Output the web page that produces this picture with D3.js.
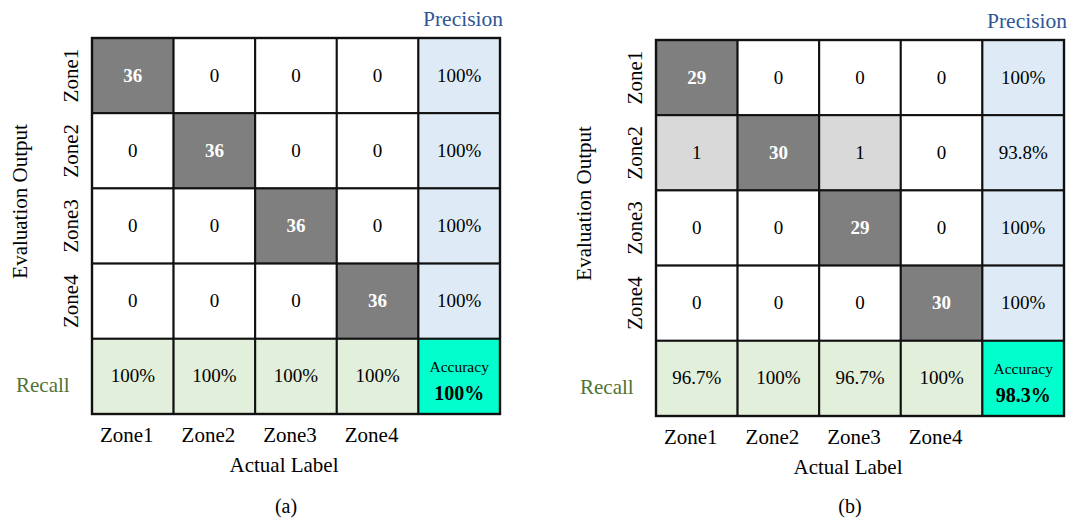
<!DOCTYPE html>
<html>
<head>
<meta charset="utf-8">
<script src="https://cdn.jsdelivr.net/npm/d3@7"></script>
<style>
  html, body { margin: 0; padding: 0; background: #fff; }
  svg { display: block; font-family: "Liberation Serif", "Times New Roman", serif; }
</style>
</head>
<body>
<svg id="chart" width="1074" height="520"></svg>
<script>
// Class names shared by both confusion matrices
const zones = ["Zone1", "Zone2", "Zone3", "Zone4"];

// Panel (a): rows = evaluation output, columns = actual label
const countsA = [
  [36, 0, 0, 0],
  [0, 36, 0, 0],
  [0, 0, 36, 0],
  [0, 0, 0, 36]
];
const precisionA = ["100%", "100%", "100%", "100%"];
const recallA = ["100%", "100%", "100%", "100%"];
const accuracyA = "100%";

// Panel (b)
const countsB = [
  [29, 0, 0, 0],
  [1, 30, 1, 0],
  [0, 0, 29, 0],
  [0, 0, 0, 30]
];
const precisionB = ["100%", "93.8%", "100%", "100%"];
const recallB = ["96.7%", "100%", "96.7%", "100%"];
const accuracyB = "98.3%";

const panels = [
  { id: "(a)", counts: countsA, precision: precisionA, recall: recallA, accuracy: accuracyA, x: 92, y: 38 },
  { id: "(b)", counts: countsB, precision: precisionB, recall: recallB, accuracy: accuracyB, x: 656, y: 40 }
];

const colors = {
  diag: "#7f7f7f",
  offHit: "#d9d9d9",
  zero: "#ffffff",
  precision: "#deebf7",
  recall: "#e2efda",
  accuracy: "#00ffcc",
  blueText: "#2f5597",
  greenText: "#4f7336"
};

const W = 408, H = 376;
const svg = d3.select("#chart");
const colKeys = zones.concat(["__prec"]);
const rowKeys = zones.concat(["__rec"]);

panels.forEach(p => {
  const g = svg.append("g").attr("transform", `translate(${p.x},${p.y})`);
  const x = d3.scaleBand().domain(colKeys).range([0, W]);
  const y = d3.scaleBand().domain(rowKeys).range([0, H]);

  // Assemble all 25 cells
  const cells = [];
  zones.forEach((r, i) => {
    zones.forEach((c, j) => {
      const v = p.counts[i][j];
      cells.push({
        row: r, col: c, text: String(v),
        fill: i === j ? colors.diag : (v > 0 ? colors.offHit : colors.zero),
        color: i === j ? "#ffffff" : "#000000",
        bold: i === j
      });
    });
    cells.push({ row: r, col: "__prec", text: p.precision[i], fill: colors.precision, color: "#000", bold: false });
  });
  zones.forEach((c, j) => {
    cells.push({ row: "__rec", col: c, text: p.recall[j], fill: colors.recall, color: "#000", bold: false });
  });
  cells.push({ row: "__rec", col: "__prec", text: null, fill: colors.accuracy, acc: true });

  const cg = g.selectAll("g.cell").data(cells).join("g")
    .attr("class", "cell")
    .attr("transform", d => `translate(${x(d.col)},${y(d.row)})`);

  cg.append("rect")
    .attr("width", x.bandwidth())
    .attr("height", y.bandwidth())
    .attr("fill", d => d.fill)
    .attr("stroke", "#111")
    .attr("stroke-width", 2);

  cg.filter(d => !d.acc).append("text")
    .attr("x", x.bandwidth() / 2)
    .attr("y", y.bandwidth() / 2 + 6)
    .attr("text-anchor", "middle")
    .attr("font-size", 19)
    .attr("font-weight", d => d.bold ? "bold" : "normal")
    .attr("fill", d => d.color)
    .text(d => d.text);

  const acc = cg.filter(d => d.acc);
  acc.append("text")
    .attr("x", x.bandwidth() / 2)
    .attr("y", 33)
    .attr("text-anchor", "middle")
    .attr("font-size", 15.5)
    .attr("fill", "#000")
    .text("Accuracy");
  acc.append("text")
    .attr("x", x.bandwidth() / 2)
    .attr("y", 61)
    .attr("text-anchor", "middle")
    .attr("font-size", 20)
    .attr("font-weight", "bold")
    .attr("fill", "#000")
    .text(p.accuracy);

  // Outer frame
  g.append("rect")
    .attr("width", W).attr("height", H)
    .attr("fill", "none").attr("stroke", "#111").attr("stroke-width", 2.4);

  // Precision header
  g.append("text")
    .attr("x", x("__prec") + x.bandwidth() + 3)
    .attr("y", -12)
    .attr("text-anchor", "end")
    .attr("font-size", 21.5)
    .attr("fill", colors.blueText)
    .text("Precision");

  // Recall label
  g.append("text")
    .attr("x", -76)
    .attr("y", y("__rec") + y.bandwidth() / 2 + 16)
    .attr("font-size", 21)
    .attr("fill", colors.greenText)
    .text("Recall");

  // Row labels (rotated)
  g.selectAll("text.rowlab").data(zones).join("text")
    .attr("class", "rowlab")
    .attr("transform", d => `translate(-14,${y(d) + y.bandwidth() / 2}) rotate(-90)`)
    .attr("text-anchor", "middle")
    .attr("font-size", 21)
    .attr("fill", "#000")
    .text(d => d);

  // Column labels
  g.selectAll("text.collab").data(zones).join("text")
    .attr("class", "collab")
    .attr("x", d => x(d) + x.bandwidth() / 2 - 6)
    .attr("y", H + 28)
    .attr("text-anchor", "middle")
    .attr("font-size", 21)
    .attr("fill", "#000")
    .text(d => d);

  // Axis titles
  g.append("text")
    .attr("transform", `translate(-65,${y("Zone1") + (y("Zone4") + y.bandwidth() - y("Zone1")) / 2 + 13}) rotate(-90)`)
    .attr("text-anchor", "middle")
    .attr("font-size", 21)
    .attr("fill", "#000")
    .text("Evaluation Output");

  g.append("text")
    .attr("x", 192)
    .attr("y", H + 58)
    .attr("text-anchor", "middle")
    .attr("font-size", 21)
    .attr("fill", "#000")
    .text("Actual Label");

  g.append("text")
    .attr("x", 194)
    .attr("y", 513 - p.y)
    .attr("text-anchor", "middle")
    .attr("font-size", 20)
    .attr("fill", "#000")
    .text(p.id);
});
</script>
</body>
</html>
